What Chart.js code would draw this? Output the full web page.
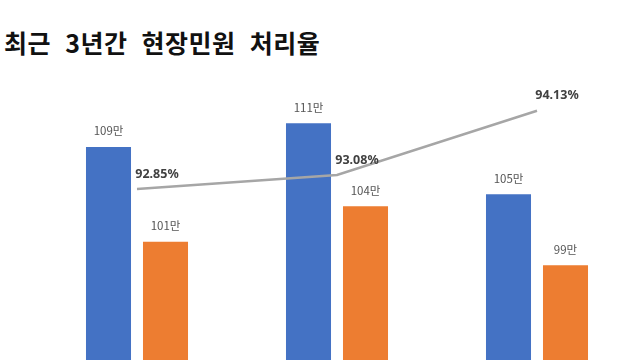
<!DOCTYPE html>
<html>
<head>
<meta charset="utf-8">
<script src="https://cdn.jsdelivr.net/npm/chart.js@4"></script>
<style>
  html, body { margin: 0; padding: 0; background: #fff; }
  #wrap { position: relative; width: 640px; height: 360px; overflow: hidden; }
  #title {
    position: absolute; left: 4px; top: 27px;
    font-family: "Noto Sans CJK KR", sans-serif; font-weight: 700;
    font-size: 25px; line-height: 30px; color: #111; word-spacing: 8px;
    letter-spacing: 0.5px;
  }
  canvas { position: absolute; left: 0; top: 0; }
</style>
</head>
<body>
<div id="wrap">
  <div id="title">최근 3년간 현장민원 처리율</div>
  <canvas id="c" width="640" height="360"></canvas>
</div>
<script>
  // categories (x axis hidden in the original)
  var years = ["2016년", "2017년", "2018년"];
  // 접수 / 처리 건수 (만 건)
  var received = [109, 111, 105];
  var processed = [101, 104, 99];
  // 처리율 (%)
  var rate = [92.85, 93.08, 94.13];

  var COLORS = {
    blue: "#4472c4",
    orange: "#ed7d31",
    line: "#a6a6a6",
    text: "#404040",
    barText: "#555555",
  };

  // ── value labels drawn on top of bars and line ──
  var labelPlugin = {
    id: "valueLabels",
    afterDatasetsDraw: function (chart) {
      var ctx = chart.ctx;
      ctx.save();
      ctx.textAlign = "center";
      ctx.textBaseline = "middle";
      chart.data.datasets.forEach(function (ds, di) {
        var meta = chart.getDatasetMeta(di);
        meta.data.forEach(function (el, i) {
          if (ds.type === "line") {
            ctx.font = "bold 12.5px 'Noto Sans', 'Noto Sans CJK KR', sans-serif";
            ctx.fillStyle = COLORS.text;
            ctx.fillText(ds.data[i].toFixed(2) + "%", el.x + 20, el.y - 15);
          } else {
            ctx.font = "11.5px 'Noto Sans CJK KR', sans-serif";
            ctx.fillStyle = COLORS.barText;
            ctx.fillText(ds.data[i] + "만", el.x, el.y - 16);
          }
        });
      });
      ctx.restore();
    }
  };

  new Chart(document.getElementById("c"), {
    type: "bar",
    data: {
      labels: years,
      datasets: [
        {
          type: "line",
          label: "처리율",
          data: rate,
          yAxisID: "y2",
          borderColor: COLORS.line,
          borderWidth: 2.5,
          pointRadius: 0,
          fill: false,
          tension: 0,
          order: 0,
        },
        {
          label: "접수",
          data: received,
          backgroundColor: COLORS.blue,
          categoryPercentage: 0.57,
          barPercentage: 0.79,
          order: 1,
        },
        {
          label: "처리",
          data: processed,
          backgroundColor: COLORS.orange,
          categoryPercentage: 0.57,
          barPercentage: 0.79,
          order: 1,
        },
      ],
    },
    options: {
      responsive: false,
      animation: false,
      layout: { padding: { left: 37, right: 3, top: 76, bottom: 0 } },
      plugins: {
        legend: { display: false },
        tooltip: { enabled: false },
      },
      scales: {
        x: { display: false, offset: true },
        y: { display: false, min: 91, max: 115 },
        y2: { display: false, min: 90.05, max: 94.7 },
      },
    },
    plugins: [labelPlugin],
  });
</script>
</body>
</html>
